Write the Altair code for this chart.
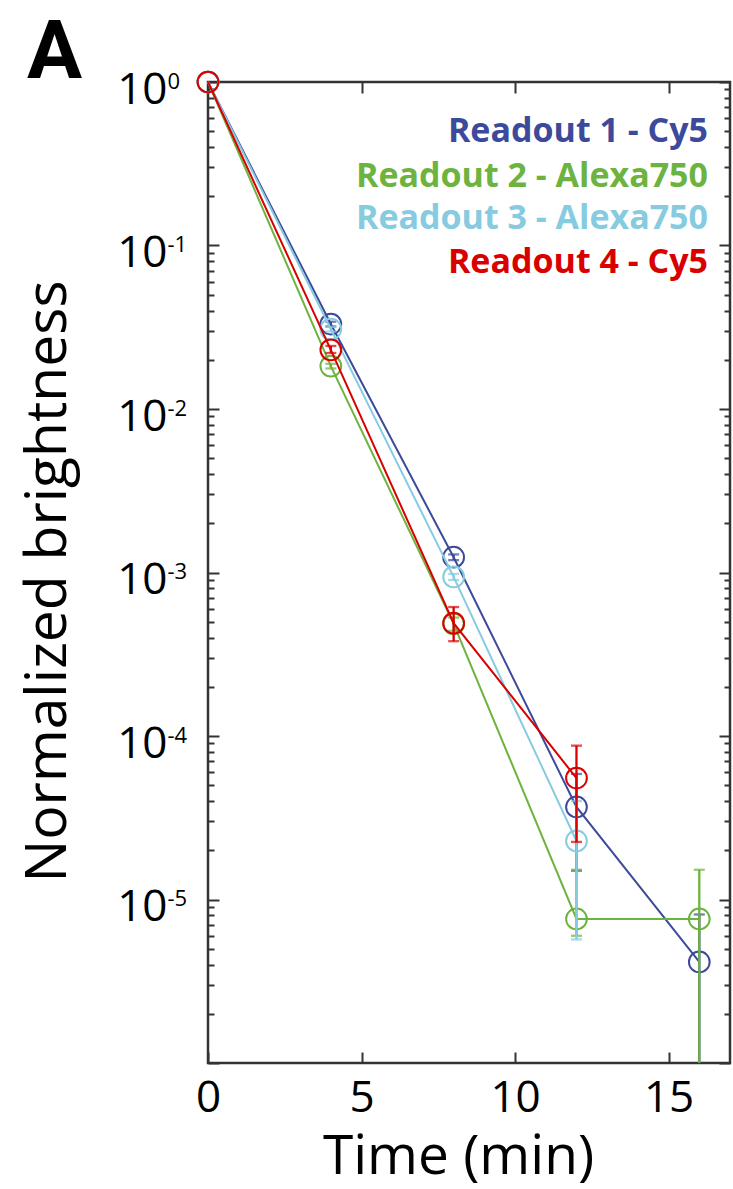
import altair as alt
import pandas as pd

# ---------------- data ----------------
times = [0, 4, 8, 12, 16]
series = ["Readout 1 - Cy5", "Readout 2 - Alexa750", "Readout 3 - Alexa750", "Readout 4 - Cy5"]
colors = ["#3d4a9b", "#6db33f", "#87cbe0", "#d90000"]

# value, lower and upper end of the error bar (None = no bar; 0 = bar runs below the axis)
r1_val = [1.0, 0.0331, 1.24e-3, 3.68e-5, 4.15e-6]
r1_lo = [None, 0.0320, 1.19e-3, 1.50e-5, 0.0]
r1_hi = [None, 0.0342, 1.29e-3, 5.86e-5, 8.1e-6]

r2_val = [1.0, 0.0183, 4.85e-4, 7.6e-6, 7.6e-6]
r2_lo = [None, 0.0177, 4.4e-4, 6.0e-6, 0.0]
r2_hi = [None, 0.0189, 5.3e-4, 1.52e-5, 1.52e-5]

r3_val = [1.0, 0.0308, 9.4e-4, 2.28e-5, None]
r3_lo = [None, 0.0298, 9.0e-4, 5.7e-6, None]
r3_hi = [None, 0.0318, 9.8e-4, 4.0e-5, None]

r4_val = [1.0, 0.0230, 4.9e-4, 5.53e-5, None]
r4_lo = [None, 0.0220, 3.8e-4, 2.25e-5, None]
r4_hi = [None, 0.0243, 6.15e-4, 8.73e-5, None]

x_ticks = [0, 5, 10, 15]
y_major = [1, 1e-1, 1e-2, 1e-3, 1e-4, 1e-5]
panel_label = "A"

X_DOMAIN = [0, 17]
Y_DOMAIN = [1e-6, 1]
W, H = 522, 981
FONT = "Open Sans"
FRAME = "#333333"

vals = [r1_val, r2_val, r3_val, r4_val]
los = [r1_lo, r2_lo, r3_lo, r4_lo]
his = [r1_hi, r2_hi, r3_hi, r4_hi]

rows = []
for s, v, lo, hi in zip(series, vals, los, his):
    for t, vv, l, h in zip(times, v, lo, hi):
        if vv is None:
            continue
        lo_plot = None
        if l is not None:
            lo_plot = l if l > Y_DOMAIN[0] else Y_DOMAIN[0]
        rows.append({"series": s, "t": t, "val": vv, "lo": l, "lo_plot": lo_plot, "hi": h})
df = pd.DataFrame(rows)

# all tick positions on the log axis (decades and 2..9 minor ticks)
y_all = [1.0]
for e in range(-1, -7, -1):
    for k in range(1, 10):
        v = float(f"{k}e{e}")
        if v >= Y_DOMAIN[0]:
            y_all.append(v)

xs = alt.Scale(domain=X_DOMAIN, nice=False, zero=False)
ys = alt.Scale(type="log", domain=Y_DOMAIN, nice=False)

MAJOR = "abs(log(datum.value)/LN10 - round(log(datum.value)/LN10)) < 0.01"
ysize = {"condition": {"test": MAJOR, "value": 11}, "value": 6}

layers = []

# ---------------- series (drawn in order) ----------------
for s, c in zip(series, colors):
    d = df[df.series == s]
    base = alt.Chart(d)
    X = alt.X("t:Q", scale=xs, axis=None)
    layers.append(base.mark_line(color=c, strokeWidth=2).encode(x=X, y=alt.Y("val:Q", scale=ys, axis=None)))
    eb = d[d.hi.notna()]
    if len(eb):
        b2 = alt.Chart(eb)
        layers.append(b2.mark_rule(color=c, strokeWidth=2.3).encode(
            x=X, y=alt.Y("lo_plot:Q", scale=ys, axis=None), y2="hi:Q"))
        layers.append(b2.mark_tick(color=c, orient="horizontal", size=11, thickness=2.3).encode(
            x=X, y=alt.Y("hi:Q", scale=ys, axis=None)))
        lo_caps = eb[eb.lo > Y_DOMAIN[0]]
        if len(lo_caps):
            layers.append(alt.Chart(lo_caps).mark_tick(color=c, orient="horizontal", size=11, thickness=2.3).encode(
                x=X, y=alt.Y("lo:Q", scale=ys, axis=None)))
    layers.append(base.mark_point(shape="circle", filled=False, color=c, size=430, strokeWidth=2, opacity=1).encode(
        x=X, y=alt.Y("val:Q", scale=ys, axis=None)))

# ---------------- axes (invisible carrier marks) ----------------
ghost = alt.Chart(df).mark_point(opacity=0, size=1)

axA = ghost.encode(
    x=alt.X("t:Q", scale=xs, axis=alt.Axis(
        orient="bottom", values=x_ticks, ticks=False, domain=False, grid=False,
        labelFont=FONT, labelFontSize=44, labelColor="black", labelPadding=13,
        labelFlush=False, labelOverlap=False, format="d",
        title="Time (min)", titleFont=FONT, titleFontSize=55, titleFontWeight="normal",
        titleColor="black", titleX=250, titleY=110, titleAlign="center", titleBaseline="alphabetic")),
    y=alt.Y("val:Q", scale=ys, axis=alt.Axis(
        orient="left", values=y_major, ticks=False, domain=False, grid=False,
        labelExpr="'10'", labelFont=FONT, labelFontSize=44, labelColor="black",
        labelPadding=41, labelAlign="right", labelBaseline="middle", labelOffset=8,
        labelFlush=False, labelOverlap=False,
        title="Normalized brightness", titleFont=FONT, titleFontSize=57, titleFontWeight="normal",
        titleColor="black", titleAngle=270, titleX=-143, titleY=499, titleAlign="center",
        titleBaseline="alphabetic")),
)

axB = ghost.encode(
    x=alt.X("t:Q", scale=xs, axis=alt.Axis(
        orient="top", offset=-H, values=x_ticks, labels=False, domain=False, grid=False,
        tickSize=11, tickWidth=2, tickColor=FRAME, title=None)),
    y=alt.Y("val:Q", scale=ys, axis=alt.Axis(
        orient="right", offset=-W, values=y_all, labels=False, domain=False, grid=False,
        tickSize=ysize, tickWidth=2, tickColor=FRAME, title=None)),
)

axC = ghost.encode(
    x=alt.X("t:Q", scale=xs, axis=alt.Axis(
        orient="bottom", offset=-H, values=x_ticks, labels=False, domain=False, grid=False,
        tickSize=11, tickWidth=2, tickColor=FRAME, title=None)),
    y=alt.Y("val:Q", scale=ys, axis=alt.Axis(
        orient="left", offset=-W, values=y_all, labels=False, domain=False, grid=False,
        tickSize=ysize, tickWidth=2, tickColor=FRAME, title=None)),
)

axD = ghost.encode(
    x=alt.X("t:Q", scale=xs, axis=None),
    y=alt.Y("val:Q", scale=ys, axis=alt.Axis(
        orient="left", values=y_major, ticks=False, domain=False, grid=False,
        labelExpr="'' + round(log(datum.value)/LN10)", labelFont=FONT, labelFontSize=22,
        labelColor="black", labelPadding=41, labelAlign="left", labelBaseline="middle",
        labelOffset=-1, labelFlush=False, labelOverlap=False, title=None)),
)

# ---------------- legend as coloured text ----------------
leg_y = [60, 105, 147, 191]
for s, c, yy in zip(series, colors, leg_y):
    layers.append(alt.Chart(pd.DataFrame({"label": [s]})).mark_text(
        align="right", baseline="alphabetic", font=FONT, fontSize=34, fontWeight="bold", color=c
    ).encode(text="label:N", x=alt.value(500), y=alt.value(yy)))

# ---------------- panel letter ----------------
panel = alt.Chart(pd.DataFrame({"label": [panel_label]})).mark_text(
    align="left", baseline="alphabetic", font="Roboto", fontSize=82, fontWeight="bold", color="black"
).encode(text="label:N", x=alt.value(-181), y=alt.value(-4))

chart = alt.layer(axA, axB, axC, axD, *layers, panel).resolve_axis(
    x="independent", y="independent"
).properties(
    width=W, height=H,
    autosize=alt.AutoSizeParams(type="none"),
    padding={"left": 208, "top": 82, "right": 3, "bottom": 126},
    background="white",
).configure_view(stroke=FRAME, strokeWidth=2.5)

chart.save("out.html", embed_options={"renderer": "svg", "actions": False})
